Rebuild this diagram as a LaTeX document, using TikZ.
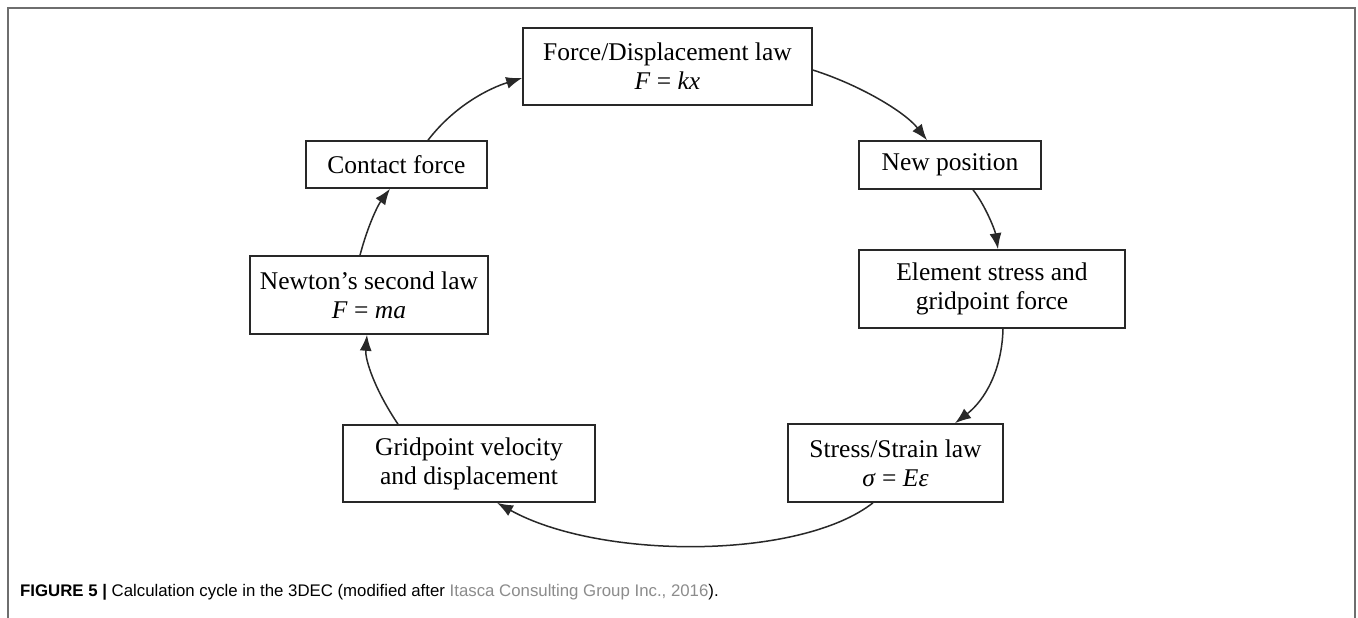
\documentclass[tikz,border=0pt]{standalone}
\usepackage{fontspec}
\setmainfont{Liberation Serif}
\newfontfamily\capfont{Liberation Sans}
\usetikzlibrary{arrows.meta}
\definecolor{framegray}{RGB}{110,110,110}
\definecolor{linkgray}{RGB}{140,140,140}
\definecolor{boxline}{RGB}{40,40,40}
\tikzset{
  cyclebox/.style={draw=boxline, line width=1.6pt, inner sep=0pt, align=center,
    font=\fontsize{25.5}{29}\selectfont, fill=white},
  cyclearrow/.style={draw=boxline, line width=1.5pt, -{Latex[length=16pt,width=12pt]}},
  framestyle/.style={draw=framegray, line width=2pt}
}
\begin{document}
\begin{tikzpicture}[x=1pt,y=-1pt]
\fill[white] (0,0) rectangle (1358,618);
\useasboundingbox (0,0) rectangle (1358,618);
\draw[framestyle] (8,619) -- (8,8) -- (1355,8) -- (1355,619);

\node[cyclebox, minimum width=289pt, minimum height=77pt] (fd) at (667.5,66.5) {Force/Displacement law\\\textit{F} = \textit{kx}};
\node[cyclebox, minimum width=181pt, minimum height=47pt] (cf) at (396.5,164.5) {Contact force};
\node[cyclebox, minimum width=182pt, minimum height=48pt] (np) at (950,165) {New position};
\node[cyclebox, minimum width=238pt, minimum height=78pt] (nw) at (369,295) {Newton’s second law\\\textit{F} = \textit{ma}};
\node[cyclebox, minimum width=266pt, minimum height=78pt] (es) at (992,289) {Element stress and\\gridpoint force};
\node[cyclebox, minimum width=252pt, minimum height=77pt] (gp) at (469,463.5) {Gridpoint velocity\\and displacement};
\node[cyclebox, minimum width=215pt, minimum height=78pt] (ss) at (895.5,463) {Stress/Strain law\\\textit{σ} = \textit{Eε}};

\draw[cyclearrow] ([xshift=31.5pt]cf.north) .. controls (455,105) and (490,88) .. ([yshift=-11.5pt]fd.west);
\draw[cyclearrow] ([yshift=-3.5pt]fd.east) .. controls (860,85) and (905,112) .. ([xshift=-23pt]np.north);
\draw[cyclearrow] ([xshift=23pt]np.south) .. controls (985,205) and (995,230) .. ([xshift=6pt]es.north);
\draw[cyclearrow] ([xshift=11pt]es.south) .. controls (1002,370) and (985,400) .. ([xshift=59.5pt]ss.north);
\draw[cyclearrow] ([xshift=-22.5pt]ss.south) .. controls (800,560) and (600,560) .. ([xshift=28pt]gp.south);
\draw[cyclearrow] ([xshift=-71pt]gp.north) .. controls (375,390) and (365,360) .. ([xshift=-2pt]nw.south);
\draw[cyclearrow] ([xshift=-9pt]nw.north) .. controls (368,225) and (378,205) .. ([xshift=-6.5pt]cf.south);

\node[anchor=base west, inner sep=0pt, font=\capfont\fontsize{16.8}{20}\selectfont] (cap) at (20,596)
  {\textbf{FIGURE 5 |} Calculation cycle in the 3DEC (modified after \textcolor{linkgray}{Itasca Consulting Group Inc., 2016}).};
\end{tikzpicture}
\end{document}
